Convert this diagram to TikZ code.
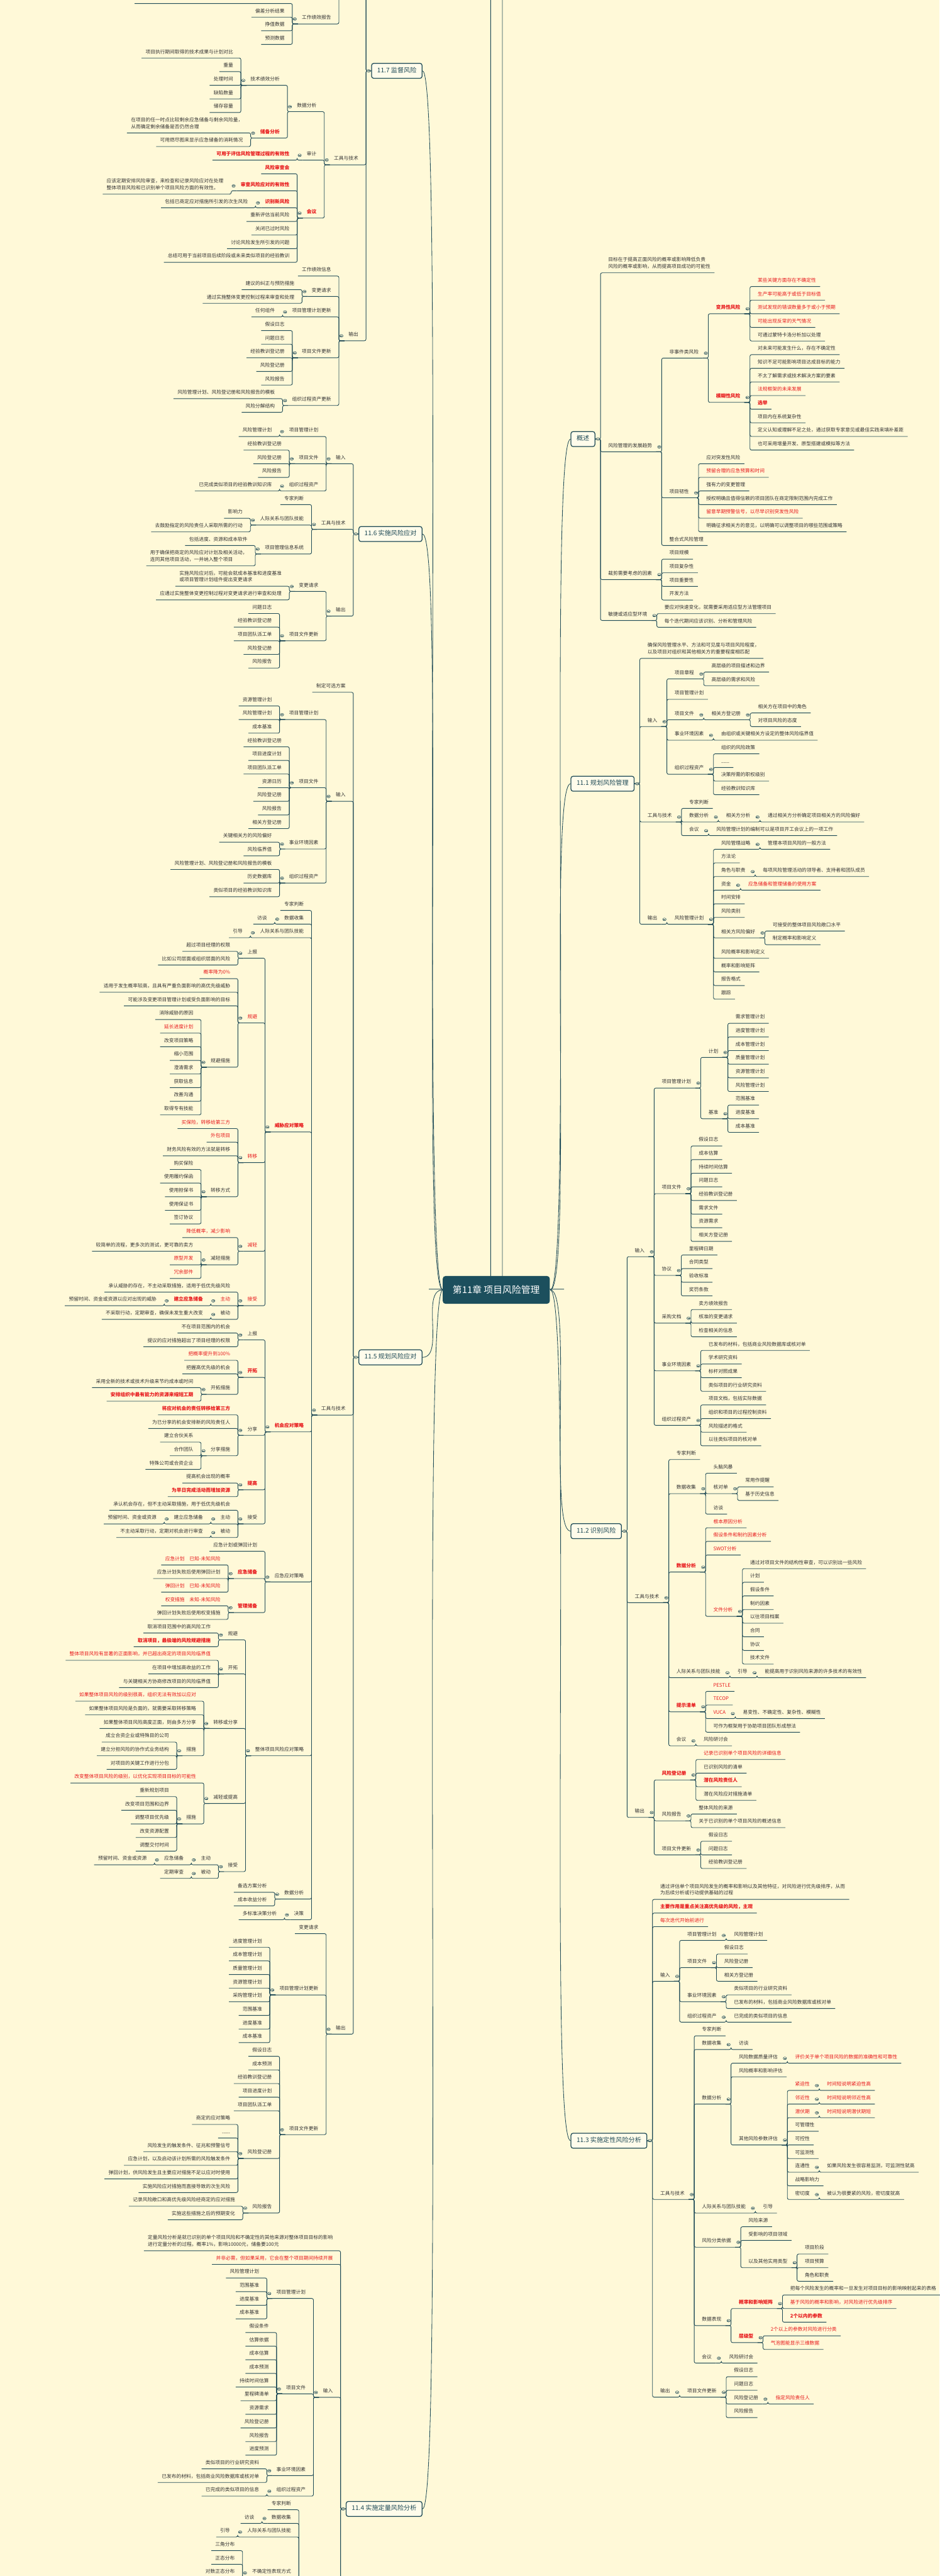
\documentclass[border=0pt]{standalone}
\usepackage{tikz}
\usetikzlibrary{backgrounds}
\usepackage{fontspec}
\setmainfont{Noto Sans CJK SC}
\usepackage{forest}
\newcommand\mmf{\fontsize{3.7pt}{5.12pt}\selectfont}
\newcommand\mmb{\fontsize{3.7pt}{5.12pt}\selectfont\bfseries}
\definecolor{bgc}{HTML}{FFF9D8}
\definecolor{lc}{HTML}{1F4B57}
\definecolor{txc}{HTML}{333333}
\definecolor{rdc}{HTML}{E8191C}
\definecolor{cfill}{HTML}{1C4F5D}
\tikzset{
  conn/.style={draw=lc, line width=0.43pt, rounded corners=1.2pt},
  mkr/.style={draw=lc, line width=0.28pt, fill=bgc},
  cbox/.style={fill=cfill, rounded corners=2pt, text=white, font=\fontsize{7.1pt}{8.5pt}\selectfont, minimum width=2.86cm, minimum height=0.74cm},
  curve/.style={draw=lc, line width=0.4pt},
}
\forestset{
  mmbase/.style={for tree={font=\mmf, text=txc, inner xsep=2.85pt, inner ysep=2.42pt, minimum height=8.54pt, align=left, s sep=0pt, l=0pt, l sep=7.11pt, fit=rectangle, calign=midpoint}},
  lt/.style={for tree={grow=west, anchor=east, edge path={\noexpand\path[conn] ([yshift=0.71pt]!u.south west) -- ++(-4.27pt,0) |- ([yshift=0.71pt].south east) -- ([yshift=0.71pt].south west);}},
    where n children=0{}{tikz+={\draw[mkr] ([xshift=-2.4pt,yshift=4.41pt].south west) ellipse [x radius=1.28pt,y radius=1pt]; \draw[mkr] ([xshift=-3.1pt,yshift=4.41pt].south west) -- ([xshift=-1.7pt,yshift=4.41pt].south west);}}},
  rt/.style={for tree={grow'=east, anchor=west, edge path={\noexpand\path[conn] ([yshift=0.71pt]!u.south east) -- ++(4.27pt,0) |- ([yshift=0.71pt].south west) -- ([yshift=0.71pt].south east);}},
    where n children=0{}{tikz+={\draw[mkr] ([xshift=2.4pt,yshift=4.41pt].south east) ellipse [x radius=1.28pt,y radius=1pt]; \draw[mkr] ([xshift=1.7pt,yshift=4.41pt].south east) -- ([xshift=3.1pt,yshift=4.41pt].south east);}}},
  bx/.style={font=\fontsize{4.84pt}{5.8pt}\selectfont, text=lc, draw=lc, line width=0.6pt, fill=bgc!50!white, rounded corners=1.6pt, inner xsep=4.27pt, minimum height=11.38pt, l sep=6.83pt},
  lbx/.style={bx, edge path={\noexpand\path[curve] ([xshift=9.53pt]!u.center) .. controls +(-0.6,0) and +(0.6,0) .. (.east);},
    for children={edge path={\noexpand\path[conn] (!u.west) -- ++(-3.98pt,0) |- ([yshift=0.71pt].south east) -- ([yshift=0.71pt].south west);}},
    tikz={\draw[mkr] ([xshift=-2pt].west) ellipse [x radius=1.28pt,y radius=1pt]; \draw[mkr] ([xshift=-2.7pt].west) -- ([xshift=-1.3pt].west);}},
  rbx/.style={bx, edge path={\noexpand\path[curve] ([xshift=-9.53pt]!u.center) .. controls +(0.6,0) and +(-0.6,0) .. (.west);},
    for children={edge path={\noexpand\path[conn] (!u.east) -- ++(3.98pt,0) |- ([yshift=0.71pt].south west) -- ([yshift=0.71pt].south east);}},
    tikz={\draw[mkr] ([xshift=2pt].east) ellipse [x radius=1.28pt,y radius=1pt]; \draw[mkr] ([xshift=1.3pt].east) -- ([xshift=2.7pt].east);}},
  zz/.style={inner sep=0pt, minimum height=0pt, minimum width=0pt},
  rd/.style={text=rdc},
  rdb/.style={text=rdc, font=\mmb},
}
\begin{document}
\begin{forest}
mmbase,
begin draw/.code={\begin{tikzpicture}[show background rectangle, background rectangle/.style={fill=bgc,draw=none}, inner frame sep=0pt]},
[,name=R, zz, grow=south, l=0pt, l sep=0pt, s sep=100.44pt, calign=midpoint, tikz={}
[,name=A, lt, zz, no edge, l sep=5.69pt, s sep=7.97pt,
 tikz={\pgfresetboundingbox \useasboundingbox ([xshift=-327.21pt,yshift=980.78pt].center) rectangle ([xshift=387.25pt,yshift=-977.93pt].center); \node[cbox] (c) at ([xshift=50.22pt].center) {第11章 项目风险管理};}
%% ---------------- 11.7
[11.7 监督风险,lbx,name=b117
[监督风险过程采用项目执行期间生成的绩效信息，以确定
[实施的风险应对是否有效][整体项目风险级别是否已改变][已识别单个项目风险的状态是否已改变][是否出现新的单个项目风险][风险管理方法是否依然适用][项目假设条件是否仍然成立][风险管理政策和程序是否已得到遵守][成本或进度应急储备是否需要修改][项目策略是否仍然有效]]
[输入
[项目管理计划[风险管理计划]]
[项目文件[问题日志][经验教训登记册][风险登记册][风险报告]]
[工作绩效数据[包括关于项目状态的信息][已实施的风险应对措施][已发生的风险][仍活跃及已关闭的风险]]
[工作绩效报告[通过分析绩效测量结果而得到的，能够提供关于项目工作绩效的信息][偏差分析结果][挣值数据][预测数据]]]
[工具与技术
[数据分析
[技术绩效分析[项目执行期间取得的技术成果与计划对比][重量][处理时间][缺陷数量][储存容量]]
[储备分析,rdb[{在项目的任一时点比较剩余应急储备与剩余风险量，\\从而确定剩余储备是否仍然合理}][可用燃尽图来显示应急储备的消耗情况]]]
[审计[可用于评估风险管理过程的有效性,rdb]]
[会议,rdb
[风险审查会,rdb]
[审查风险应对的有效性,rdb[{应该定期安排风险审查，来检查和记录风险应对在处理\\整体项目风险和已识别单个项目风险方面的有效性。}]]
[识别新风险,rdb[包括已商定应对措施所引发的次生风险]]
[重新评估当前风险][关闭已过时风险][讨论风险发生所引发的问题][总结可用于当前项目后续阶段或未来类似项目的经验教训]]]
[输出
[工作绩效信息]
[变更请求[建议的纠正与预防措施][通过实施整体变更控制过程来审查和处理]]
[项目管理计划更新[任何组件]]
[项目文件更新[假设日志][问题日志][经验教训登记册][风险登记册][风险报告]]
[组织过程资产更新[风险管理计划、风险登记册和风险报告的模板][风险分解结构]]]]
%% ---------------- 11.6
[11.6 实施风险应对,lbx,name=b116
[输入
[项目管理计划[风险管理计划]]
[项目文件[经验教训登记册][风险登记册][风险报告]]
[组织过程资产[已完成类似项目的经验教训知识库]]]
[工具与技术
[专家判断]
[人际关系与团队技能[影响力][去鼓励指定的风险责任人采取所需的行动]]
[项目管理信息系统[包括进度、资源和成本软件][{用于确保把商定的风险应对计划及相关活动，\\连同其他项目活动，一并纳入整个项目}]]]
[输出
[变更请求[{实施风险应对后，可能会就成本基准和进度基准\\或项目管理计划组件提出变更请求}][应通过实施整体变更控制过程对变更请求进行审查和处理]]
[项目文件更新[问题日志][经验教训登记册][项目团队派工单][风险登记册][风险报告]]]]
%% ---------------- 11.5
[11.5 规划风险应对,lbx,name=b115
[制定可选方案]
[输入
[项目管理计划[资源管理计划][风险管理计划][成本基准]]
[项目文件[经验教训登记册][项目进度计划][项目团队派工单][资源日历][风险登记册][风险报告][相关方登记册]]
[事业环境因素[关键相关方的风险偏好][风险临界值]]
[组织过程资产[风险管理计划、风险登记册和风险报告的模板][历史数据库][类似项目的经验教训知识库]]]
[工具与技术
[专家判断]
[数据收集[访谈]]
[人际关系与团队技能[引导]]
[威胁应对策略,rdb
[上报[超过项目经理的权限][比如公司层面或组织层面的风险]]
[规避,rd[概率降为0\%,rd][适用于发生概率较高，且具有严重负面影响的高优先级威胁][可能涉及变更项目管理计划或受负面影响的目标]
[规避措施[消除威胁的原因][延长进度计划,rd][改变项目策略][缩小范围][澄清需求][获取信息][改善沟通][取得专有技能]]]
[转移,rd[买保险，转移给第三方,rd][外包项目,rd][财务风险有效的方法就是转移]
[转移方式[购买保险][使用履约保函][使用担保书][使用保证书][签订协议]]]
[减轻,rd[降低概率，减少影响,rd][减轻措施[较简单的流程，更多次的测试，更可靠的卖方][原型开发,rd][冗余部件,rd]]]
[接受,rd[承认威胁的存在，不主动采取措施，适用于低优先级风险]
[主动,rd[建立应急储备,rdb[预留时间、资金或资源以应对出现的威胁]]]
[被动[不采取行动，定期审查，确保未发生重大改变]]]]
[机会应对策略,rdb
[上报[不在项目范围内的机会][提议的应对措施超出了项目经理的权限]]
[开拓,rdb[把概率提升到100\%,rd][把握高优先级的机会]
[开拓措施[采用全新的技术或技术升级来节约成本或时间][安排组织中最有能力的资源来缩短工期,rdb]]]
[分享[将应对机会的责任转移给第三方,rdb][为已分享的机会安排新的风险责任人]
[分享措施[建立合伙关系][合作团队][特殊公司或合资企业]]]
[提高,rdb[提高机会出现的概率][为早日完成活动而增加资源,rdb]]
[接受[承认机会存在，但不主动采取措施，用于低优先级机会]
[主动[建立应急储备[预留时间、资金或资源]]]
[被动[不主动采取行动，定期对机会进行审查]]]]
[应急应对策略
[应急计划或弹回计划]
[应急储备,rdb[应急计划　已知-未知风险,rd][应急计划失败后使用弹回计划][弹回计划　已知-未知风险,rd]]
[管理储备,rdb[权变措施　未知-未知风险,rd][弹回计划失败后使用权变措施]]]
[整体项目风险应对策略
[规避[取消项目范围中的高风险工作][取消项目，最极端的风险规避措施,rdb]]
[开拓[整体项目风险有显著的正面影响，并已超出商定的项目风险临界值,rd][在项目中增加高收益的工作][与关键相关方协商修改项目的风险临界值]]
[转移或分享[如果整体项目风险的级别很高，组织无法有效加以应对,rd][如果整体项目风险是负面的，就需要采取转移策略][如果整体项目风险高度正面，则由多方分享]
[措施[成立合资企业或特殊目的公司][建立分担风险的协作式业务结构][对项目的关键工作进行分包]]]
[减轻或提高[改变整体项目风险的级别，以优化实现项目目标的可能性,rd]
[措施[重新规划项目][改变项目范围和边界][调整项目优先级][改变资源配置][调整交付时间]]]
[接受[主动[应急储备[预留时间、资金或资源]]][被动[定期审查]]]]
[数据分析[备选方案分析][成本收益分析]]
[决策[多标准决策分析]]]
[输出
[变更请求]
[项目管理计划更新[进度管理计划][成本管理计划][质量管理计划][资源管理计划][采购管理计划][范围基准][进度基准][成本基准]]
[项目文件更新[假设日志][成本预测][经验教训登记册][项目进度计划][项目团队派工单]
[风险登记册[商定的应对策略][......][风险发生的触发条件、征兆和预警信号][应急计划，以及启动该计划所需的风险触发条件][弹回计划，供风险发生且主要应对措施不足以应对时使用][实施风险应对措施而直接导致的次生风险]]
[风险报告[记录风险敞口和高优先级风险经商定的应对措施][实施这些措施之后的预期变化]]]]]
%% ---------------- 11.4
[11.4 实施定量风险分析,lbx,name=b114
[{定量风险分析是就已识别的单个项目风险和不确定性的其他来源对整体项目目标的影响\\进行定量分析的过程。概率1\%，影响10000元，储备要100元}]
[并非必需，但如果采用，它会在整个项目期间持续开展,rd]
[输入
[项目管理计划[风险管理计划][范围基准][进度基准][成本基准]]
[项目文件[假设条件][估算依据][成本估算][成本预测][持续时间估算][里程碑清单][资源需求][风险登记册][风险报告][进度预测]]
[事业环境因素[类似项目的行业研究资料][已发布的材料，包括商业风险数据库或核对单]]
[组织过程资产[已完成的类似项目的信息]]]
[工具与技术
[专家判断]
[数据收集[访谈]]
[人际关系与团队技能[引导]]
[不确定性表现方式[三角分布][正态分布][对数正态分布][贝塔分布][均匀分布或离散分布]]
[数据分析
[模拟,rdb[蒙特卡洛分析,rd[对成本风险分析,rd[使用成本估算作为估算的输入]][对进度风险分析,rd[使用进度网络图和持续时间估算作为模拟的输入][{关键性分析可确定风险模型中哪些活动对项目关键\\路径影响最大}]]]]
[敏感性分析,rdb[有助于确定哪些单个项目风险对项目结果具有最大的潜在影响][龙卷风图,rdb]]
[决策树分析,rdb[通过概率来计算每条分支的预期货币价值]]
[影响图,rdb[不确定条件下决策制定的图形辅助工具]]]]
[输出[项目文件更新[风险报告
[对整体项目风险敞口的评估结果]
[项目详细概率分析的结果[S曲线][龙卷风图][关键性指标][结果[实现具体目标所需的应急储备][对整体项目风险影响最大的单个项目风险来源的清单][整体项目风险的主要驱动因素]]]
[单个项目风险优先级清单][定量风险分析结果的趋势][风险应对建议]]]]]
]
[,name=B, rt, zz, no edge, l sep=5.69pt, s sep=7.97pt, tikz={}
%% ---------------- 概述
[概述,rbx,name=b0
[{目标在于提高正面风险的概率或影响降低负责\\风险的概率或影响，从而提高项目成功的可能性}]
[风险管理的发展趋势
[非事件类风险
[变异性风险,rdb[某些关键方面存在不确定性,rd][生产率可能高于或低于目标值,rd][测试发现的错误数量多于或小于预期,rd][可能出现反常的天气情况,rd][可通过蒙特卡洛分析加以处理]]
[模糊性风险,rdb[对未来可能发生什么，存在不确定性][知识不足可能影响项目达成目标的能力][不太了解需求或技术解决方案的要素][法规框架的未来发展,rd][选举,rdb][项目内在系统复杂性][定义认知或理解不足之处，通过获取专家意见或最佳实践来填补差距][也可采用增量开发、原型搭建或模拟等方法]]]
[项目韧性[应对突发性风险][预留合理的应急预算和时间,rd][强有力的变更管理][授权明确且值得信赖的项目团队在商定限制范围内完成工作][留意早期预警信号，以尽早识别突发性风险,rd][明确征求相关方的意见，以明确可以调整项目的哪些范围或策略]]
[整合式风险管理]]
[裁剪需要考虑的因素[项目规模][项目复杂性][项目重要性][开发方法]]
[敏捷或适应型环境[要应对快速变化，就需要采用适应型方法管理项目][每个迭代期间应该识别、分析和管理风险]]]
%% ---------------- 11.1
[11.1 规划风险管理,rbx,name=b111
[{确保风险管理水平、方法和可见度与项目风险程度，\\以及项目对组织和其他相关方的重要程度相匹配}]
[输入
[项目章程[高层级的项目描述和边界][高层级的需求和风险]]
[项目管理计划]
[项目文件[相关方登记册[相关方在项目中的角色][对项目风险的态度]]]
[事业环境因素[由组织或关键相关方设定的整体风险临界值]]
[组织过程资产[组织的风险政策][......][决策所需的职权级别][经验教训知识库]]]
[工具与技术
[专家判断]
[数据分析[相关方分析[通过相关方分析确定项目相关方的风险偏好]]]
[会议[风险管理计划的编制可以是项目开工会议上的一项工作]]]
[输出[风险管理计划
[风险管理战略[管理本项目风险的一般方法]]
[方法论]
[角色与职责[每项风险管理活动的领导者、支持者和团队成员]]
[资金[应急储备和管理储备的使用方案,rd]]
[时间安排][风险类别]
[相关方风险偏好[可接受的整体项目风险敞口水平][制定概率和影响定义]]
[风险概率和影响定义][概率和影响矩阵][报告格式][跟踪]]]]
%% ---------------- 11.2
[11.2 识别风险,rbx,name=b112
[输入
[项目管理计划
[计划[需求管理计划][进度管理计划][成本管理计划][质量管理计划][资源管理计划][风险管理计划]]
[基准[范围基准][进度基准][成本基准]]]
[项目文件[假设日志][成本估算][持续时间估算][问题日志][经验教训登记册][需求文件][资源需求][相关方登记册]]
[协议[里程碑日期][合同类型][验收标准][奖罚条款]]
[采购文档[卖方绩效报告][核准的变更请求][检查相关的信息]]
[事业环境因素[已发布的材料，包括商业风险数据库或核对单][学术研究资料][标杆对照成果][类似项目的行业研究资料]]
[组织过程资产[项目文档，包括实际数据][组织和项目的过程控制资料][风险描述的格式][以往类似项目的核对单]]]
[工具与技术
[专家判断]
[数据收集[头脑风暴][核对单[常用作提醒][基于历史信息]][访谈]]
[数据分析,rdb[根本原因分析,rd][假设条件和制约因素分析,rd][SWOT分析,rd]
[文件分析,rd[通过对项目文件的结构性审查，可以识别出一些风险][计划][假设条件][制约因素][以往项目档案][合同][协议][技术文件]]]
[人际关系与团队技能[引导[能提高用于识别风险来源的许多技术的有效性]]]
[提示清单,rdb[PESTLE,rd][TECOP,rd][VUCA,rd[易变性、不确定性、复杂性、模糊性]][可作为框架用于协助项目团队形成想法]]
[会议[风险研讨会]]]
[输出
[风险登记册,rdb[记录已识别单个项目风险的详细信息,rd][已识别风险的清单][潜在风险责任人,rdb][潜在风险应对措施清单]]
[风险报告[整体风险的来源][关于已识别的单个项目风险的概述信息]]
[项目文件更新[假设日志][问题日志][经验教训登记册]]]]
%% ---------------- 11.3
[11.3 实施定性风险分析,rbx,name=b113
[{通过评估单个项目风险发生的概率和影响以及其他特征，对风险进行优先级排序，从而\\为后续分析或行动提供基础的过程}]
[主要作用是重点关注高优先级的风险，主观,rdb]
[每次迭代开始前进行,rd]
[输入
[项目管理计划[风险管理计划]]
[项目文件[假设日志][风险登记册][相关方登记册]]
[事业环境因素[类似项目的行业研究资料][已发布的材料，包括商业风险数据库或核对单]]
[组织过程资产[已完成的类似项目的信息]]]
[工具与技术
[专家判断]
[数据收集[访谈]]
[数据分析
[风险数据质量评估[评价关于单个项目风险的数据的准确性和可靠性,rd]]
[风险概率和影响评估]
[其他风险参数评估
[紧迫性,rd[时间短说明紧迫性高,rd]]
[邻近性,rd[时间短说明邻近性高,rd]]
[潜伏期,rd[时间短说明潜伏期短,rd]]
[可管理性][可控性][可监测性]
[连通性[如果风险发生很容易监测，可监测性就高]]
[战略影响力]
[密切度[被认为很要紧的风险，密切度就高]]]]
[人际关系与团队技能[引导]]
[风险分类依据[风险来源][受影响的项目领域][以及其他实用类型[项目阶段][项目预算][角色和职责]]]
[数据表现
[概率和影响矩阵,rdb[把每个风险发生的概率和一旦发生对项目目标的影响映射起来的表格][基于风险的概率和影响，对风险进行优先级排序,rd][2个以内的参数,rdb]]
[层级型,rdb[2个以上的参数对风险进行分类,rd][气泡图能显示三维数据,rd]]]
[会议[风险研讨会]]]
[输出[项目文件更新[假设日志][问题日志][风险登记册[指定风险责任人,rd]][风险报告]]]]
]
]
\end{forest}
\end{document}
